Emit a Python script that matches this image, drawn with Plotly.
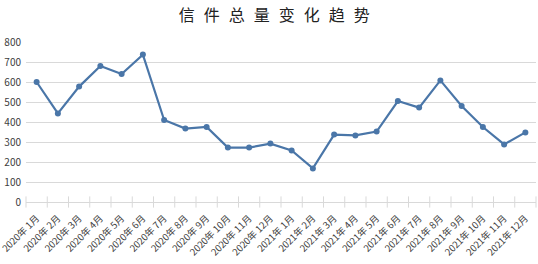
import plotly.graph_objects as go

categories = [f"2020年 {m}月" for m in range(1, 13)] + [f"2021年 {m}月" for m in range(1, 13)]
values = [600, 443, 577, 680, 640, 737, 410, 367, 375, 272, 272, 292,
          258, 168, 337, 333, 352, 505, 472, 608, 480, 375, 288, 348]
y_ticks = [0, 100, 200, 300, 400, 500, 600, 700, 800]
title_text = "\u2002\u200a".join("信件总量变化趋势")

FONT = "Noto Sans CJK SC, Noto Sans, sans-serif"
LINE = "#4a76a8"

fig = go.Figure()
# boundary tick marks
fig.add_trace(go.Scatter(
    x=[i - 0.5 for i in range(len(categories) + 1)], y=[0] * (len(categories) + 1),
    mode="markers", marker=dict(symbol="line-ns", size=8, line=dict(color="#d9d9d9", width=1)),
    hoverinfo="skip", cliponaxis=False,
))
fig.add_trace(go.Scatter(
    x=list(range(len(categories))), y=values, mode="lines+markers",
    line=dict(color=LINE, width=2.2),
    marker=dict(color=LINE, size=6),
    hoverinfo="skip",
))

fig.update_layout(
    width=538, height=264,
    margin=dict(l=26, r=2, t=42, b=62, autoexpand=False),
    paper_bgcolor="white", plot_bgcolor="white",
    showlegend=False,
    title=dict(text=title_text, x=0.487, xref="paper", xanchor="center", y=0.94, yanchor="middle",
               font=dict(family=FONT, size=16, color="#222222")),
    font=dict(family=FONT, color="#404040"),
)
fig.update_xaxes(
    range=[-0.5, len(categories) - 0.5],
    tickmode="array", tickvals=list(range(len(categories))), ticktext=categories,
    tickangle=-45, tickfont=dict(size=9.5, color="#404040"),
    showgrid=False, showline=True, linecolor="#d9d9d9", linewidth=1,
    ticks="", zeroline=False, ticklabelstandoff=6, ticklabeloverflow="allow",
    automargin=False,
)
fig.update_yaxes(
    range=[0, 800], tickmode="array", tickvals=y_ticks,
    tickfont=dict(size=10, color="#404040"),
    showgrid=True, gridcolor="#d9d9d9", gridwidth=1,
    zeroline=False, showline=False, ticks="", ticklabelstandoff=4,
    automargin=False,
)
fig.write_html("out.html")
